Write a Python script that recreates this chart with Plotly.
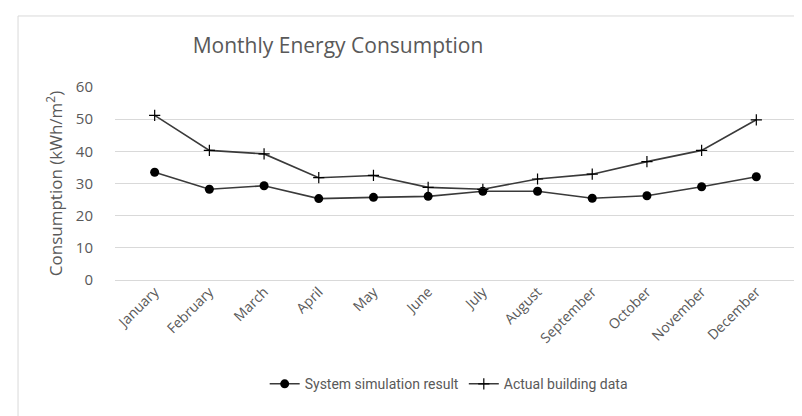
import plotly.graph_objects as go

months = ['January', 'February', 'March', 'April', 'May', 'June',
          'July', 'August', 'September', 'October', 'November', 'December']
simulation = [33.5, 28.2, 29.3, 25.3, 25.7, 26.0, 27.6, 27.6, 25.4, 26.2, 29.0, 32.1]
actual = [51.2, 40.3, 39.2, 31.8, 32.5, 28.8, 28.2, 31.4, 32.9, 36.8, 40.3, 49.8]
y_ticks = [0, 10, 20, 30, 40, 50, 60]

text_colour = '#595959'
grid_colour = '#d9d9d9'
line_colour = '#3a3a3a'

fig = go.Figure()

fig.add_trace(go.Scatter(
    x=months, y=simulation, name='System simulation result',
    mode='lines+markers',
    line=dict(color=line_colour, width=1.6),
    marker=dict(symbol='circle', size=9, color='black'),
))

fig.add_trace(go.Scatter(
    x=months, y=actual, name='Actual building data',
    mode='lines+markers',
    line=dict(color=line_colour, width=1.6),
    marker=dict(symbol='cross-thin', size=8, color='black',
                line=dict(color='black', width=1.2)),
))

fig.update_xaxes(tickangle=-45, showgrid=False, showline=False,
                 tickfont=dict(size=14, color=text_colour, family='Open Sans'))
fig.update_yaxes(range=[0, 60], tickvals=y_ticks, showgrid=True, gridcolor=grid_colour, gridwidth=1,
                 zeroline=True, zerolinecolor=grid_colour, zerolinewidth=1,
                 ticks='outside', ticklen=18, tickcolor='rgba(0,0,0,0)',
                 tickfont=dict(size=15, color=text_colour, family='Open Sans'),
                 title=dict(text='Consumption (kWh/m<sup>2</sup>)', standoff=8,
                            font=dict(size=17, color=text_colour, family='Open Sans')))

# light frame around the chart area, like the exported chart
fig.add_shape(type='rect', xref='paper', yref='paper',
              x0=-0.1424, x1=1.04, y0=-0.82, y1=1.368,
              line=dict(color=grid_colour, width=1), layer='below')

fig.update_layout(
    title=dict(text='Monthly Energy Consumption', x=330 / 802, xanchor='center',
               y=1 - 38 / 416, yanchor='middle',
               font=dict(size=21, color=text_colour, family='Open Sans')),
    legend=dict(orientation='h', x=0.49, xanchor='center', y=-0.54, yanchor='middle',
                font=dict(size=14, color=text_colour, family='Roboto')),
    plot_bgcolor='white', paper_bgcolor='white',
    width=802, height=416,
    margin=dict(l=107, r=14, t=79, b=144),
)

fig.write_html("out.html")
